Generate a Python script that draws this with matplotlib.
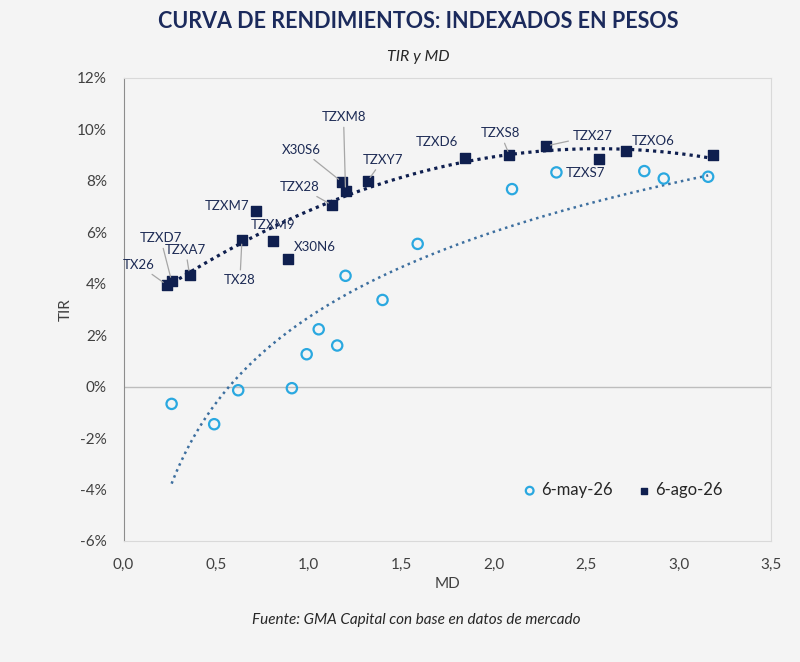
import matplotlib
matplotlib.use('Agg')
import matplotlib.pyplot as plt
import numpy as np
from matplotlib.ticker import FuncFormatter, MultipleLocator

plt.rcParams['font.family'] = ['Lato', 'DejaVu Sans']

# 6-may-26 (circulos)
md_may = [0.26, 0.49, 0.62, 0.91, 0.99, 1.055, 1.155, 1.20, 1.40, 1.59, 2.10, 2.34, 2.815, 2.92, 3.16]
tir_may = [-0.67, -1.46, -0.14, -0.06, 1.26, 2.23, 1.60, 4.31, 3.37, 5.55, 7.68, 8.33, 8.38, 8.09, 8.16]

# 6-ago-26 (cuadrados)
tickers_ago = ['TX26', 'TZXD7', 'TZXA7', 'TX28', 'TZXM7', 'TZXM9', 'X30N6', 'TZX28', 'X30S6',
               'TZXM8', 'TZXY7', 'TZXD6', 'TZXS8', 'TZX27', 'TZXS7', 'TZXO6', '']
md_ago = [0.233, 0.26, 0.357, 0.64, 0.715, 0.807, 0.888, 1.127, 1.18, 1.20, 1.32,
          1.847, 2.086, 2.286, 2.568, 2.714, 3.185]
tir_ago = [3.96, 4.1, 4.35, 5.7, 6.83, 5.67, 4.97, 7.06, 7.96, 7.6, 8.0,
           8.89, 9.0, 9.36, 8.85, 9.17, 9.0]

# label offsets in pixels (dx, dy) and whether a leader line is drawn
label_offsets = [(-28, 20), (-11, 43), (-4, 25), (-2, -40), (-29, 5), (0, 16), (27, 12),
                 (-32, 18), (-40, 32), (-2, 74), (15, 21), (-28, 16), (-9, 22), (46, 10),
                 (-13, -14), (28, 10), (0, 0)]
leaders = [True, True, True, True, False, False, False, True, True, True, True,
           False, True, True, False, False, False]

bg = '#f4f4f4'
navy = '#0f1f4f'
cyan = '#2aa8e0'
text_navy = '#1d2b55'
gray_txt = '#404040'

fig = plt.figure(figsize=(8, 6.62), dpi=100, facecolor=bg)
ax = fig.add_axes([0.1544, 0.1828, 0.8094, 0.6994], facecolor=bg)

ax.set_xlim(0, 3.5)
ax.set_ylim(-6, 12)

ax.axhline(0, color='#bdbdbd', lw=1, zorder=1)

# trendlines: log fit for may, 2nd order poly for ago
xm = np.array(md_may)
ym = np.array(tir_may)
b, a = np.polyfit(np.log(xm), ym, 1)
xs = np.linspace(xm.min(), xm.max(), 200)
ax.plot(xs, a + b * np.log(xs), color='#3d6f9f', lw=1.8, ls=(0, (1, 1.6)), zorder=2)

xa = np.array(md_ago)
ya = np.array(tir_ago)
p = np.polyfit(xa, ya, 2)
xs2 = np.linspace(xa.min(), xa.max(), 200)
ax.plot(xs2, np.polyval(p, xs2), color=navy, lw=2.3, ls=(0, (1, 1.3)), zorder=2)

ax.scatter(md_may, tir_may, s=55, facecolor='none', edgecolor=cyan, linewidth=1.6,
           marker='o', zorder=3, label='6-may-26')
ax.scatter(md_ago, tir_ago, s=42, color=navy, marker='s', zorder=4, label='6-ago-26')

for name, x, y, (dx, dy), lead in zip(tickers_ago, md_ago, tir_ago, label_offsets, leaders):
    if not name:
        continue
    arrow = dict(arrowstyle='-', color='#a6a6a6', lw=0.9, shrinkA=1, shrinkB=3) if lead else None
    ax.annotate(name, xy=(x, y), xytext=(dx * 0.72, dy * 0.72), textcoords='offset points',
                ha='center', va='center', fontsize=9.5, color=text_navy,
                arrowprops=arrow, zorder=5)

ax.xaxis.set_major_locator(MultipleLocator(0.5))
ax.yaxis.set_major_locator(MultipleLocator(2))
ax.xaxis.set_major_formatter(FuncFormatter(lambda v, _: f'{v:.1f}'.replace('.', ',')))
ax.yaxis.set_major_formatter(FuncFormatter(lambda v, _: f'{v:.0f}%'))
ax.tick_params(length=0, labelsize=11, colors=gray_txt)
ax.tick_params(axis='x', pad=12)
ax.tick_params(axis='y', pad=12)

for side in ['top', 'right', 'bottom']:
    ax.spines[side].set_color('#d9d9d9')
ax.spines['left'].set_color('#8c8c8c')

ax.set_xlabel('MD', fontsize=11, color=gray_txt, labelpad=4)
ax.set_ylabel('TIR', fontsize=11, color=gray_txt, labelpad=3)

ax.legend(loc='center', bbox_to_anchor=(0.772, 0.11), ncol=2, frameon=False,
          fontsize=12, handlelength=0.7, handletextpad=0.35, columnspacing=1.5,
          markerscale=0.75, labelcolor='#262626')

fig.text(0.5225, 0.968, 'CURVA DE RENDIMIENTOS: INDEXADOS EN PESOS', ha='center', va='center',
         fontsize=15.5, fontweight='bold', color='#1b2a5c')
fig.text(0.5225, 0.914, 'TIR y MD', ha='center', va='center', fontsize=11.5,
         style='italic', color='#262626')
fig.text(0.52, 0.064, 'Fuente: GMA Capital con base en datos de mercado', ha='center',
         va='center', fontsize=11, style='italic', color='#262626')

fig.savefig('out.png', dpi=100, facecolor=bg)
